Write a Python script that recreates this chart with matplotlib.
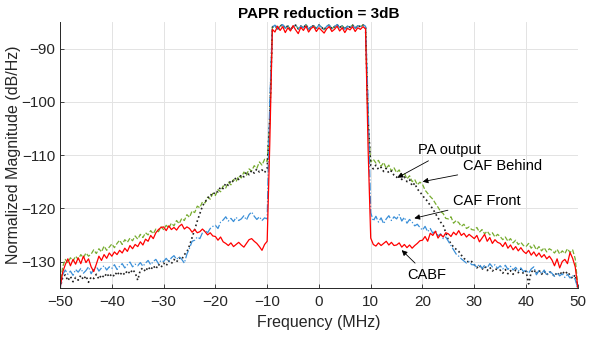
import numpy as np
import matplotlib
matplotlib.use('Agg')
import matplotlib.pyplot as plt

plt.rcParams['font.family'] = ['Liberation Sans', 'DejaVu Sans']

# PSD, 0.5 MHz steps from -50 to 50 MHz
# out-of-band left (-50 .. -10)
pa_left = [-134.5, -131.0, -129.6, -130.2, -129.3, -129.9, -129.0, -129.6, -128.7, -129.3,
           -128.4, -129.0, -128.6, -127.8, -128.5, -127.6, -128.2, -127.1, -127.9, -127.3,
           -126.7, -127.4, -126.6, -126.0, -126.8, -125.9, -126.4, -125.6, -126.1, -125.2,
           -125.8, -124.9, -125.5, -124.6, -125.0, -124.2, -124.8, -123.9, -124.4, -123.5,
           -124.0, -123.2, -123.7, -122.8, -123.3, -122.3, -122.9, -121.9, -122.3, -121.2,
           -121.7, -120.5, -120.8, -119.6, -119.9, -118.8, -119.0, -117.9, -118.3, -117.2,
           -117.6, -116.5, -116.9, -115.8, -116.2, -115.1, -115.6, -114.6, -115.0, -113.9,
           -114.3, -113.2, -113.8, -112.6, -113.0, -112.0, -112.5, -111.3, -111.9, -110.8,
           -111.2]
behind_left = [-135.0, -133.0, -132.5, -133.6, -132.8, -133.8, -133.0, -133.5, -132.6, -133.4,
               -132.7, -133.9, -132.9, -133.2, -132.4, -133.3, -132.5, -133.0, -132.2, -132.9,
               -132.3, -132.8, -131.9, -132.6, -132.0, -132.5, -131.7, -132.3, -131.5, -132.1,
               -133.5, -131.6, -131.2, -131.9, -131.0, -131.6, -130.8, -131.4, -130.5, -131.1,
               -130.3, -130.8, -129.9, -130.4, -129.6, -130.1, -129.3, -129.6, -128.7, -128.2,
               -127.0, -125.5, -124.0, -122.4, -121.0, -119.6, -118.8, -118.2, -117.4, -117.6,
               -116.8, -116.9, -116.0, -116.3, -115.3, -115.7, -114.7, -115.0, -114.2, -114.6,
               -113.7, -114.1, -113.2, -113.7, -112.9, -113.4, -112.6, -113.2, -112.8, -113.3,
               -112.5]
front_left = [-135.0, -132.5, -131.6, -132.4, -131.8, -132.6, -131.5, -132.0, -131.3, -132.2,
              -131.7, -131.0, -132.3, -131.4, -130.9, -131.8, -131.2, -130.8, -131.6, -131.0,
              -131.3, -130.6, -131.5, -130.9, -130.4, -131.2, -130.6, -130.1, -131.0, -130.5,
              -130.8, -130.2, -130.9, -130.3, -129.8, -130.6, -130.0, -129.6, -130.4, -129.8,
              -130.0, -129.4, -130.1, -129.3, -128.9, -129.6, -129.1, -129.6, -130.3, -128.6,
              -127.5, -126.2, -126.0, -125.4, -125.7, -124.6, -124.1, -124.6, -123.8, -123.4,
              -123.2, -123.8, -122.6, -122.2, -121.6, -122.4, -121.9, -122.5, -121.7, -122.3,
              -122.0, -121.4, -122.2, -121.2, -120.7, -121.5, -122.1, -121.6, -122.3, -121.8,
              -122.0]
cabf_left = [-135.0, -132.0, -130.6, -129.5, -130.8, -129.6, -130.5, -129.3, -130.4, -129.0,
             -130.2, -129.5, -131.0, -131.9, -130.5, -129.0, -129.8, -128.7, -129.4, -128.4,
             -129.0, -128.2, -128.7, -127.9, -128.4, -127.5, -128.1, -127.0, -127.6, -126.8,
             -127.2, -126.3, -126.9, -125.8, -126.2, -125.1, -125.7, -124.6, -124.0, -123.6,
             -123.5, -124.2, -123.3, -124.0, -123.6, -124.1, -123.4, -123.0, -123.9, -123.5,
             -123.8, -124.5, -124.0, -124.6, -124.4, -123.9, -124.4, -125.0, -124.6, -125.2,
             -125.3, -126.0, -125.4, -126.3, -126.6, -127.0, -126.5, -127.2, -126.8, -126.4,
             -126.9, -127.3, -126.6, -125.9, -125.7, -126.2, -126.6, -127.2, -127.9, -126.8,
             -126.2]

# in-band (-9 .. 9)
inband_caf = [-86.0, -85.6, -86.4, -85.8, -85.5, -86.2, -85.7, -86.5, -85.9, -85.6,
              -86.3, -85.8, -86.1, -85.5, -86.4, -85.9, -85.7, -86.2, -85.6, -86.0,
              -86.5, -85.8, -85.6, -86.3, -85.9, -85.5, -86.1, -85.7, -86.4, -85.8,
              -86.0, -85.6, -86.2, -85.7, -85.9, -85.6, -85.8]
inband_cabf = [-86.4, -86.9, -85.8, -86.6, -85.9, -87.0, -86.1, -86.7, -85.7, -86.5,
               -87.2, -86.0, -86.6, -85.8, -86.9, -86.2, -85.9, -86.8, -86.1, -86.6,
               -87.1, -86.3, -85.9, -86.8, -86.4, -85.8, -86.7, -86.1, -87.0, -86.2,
               -86.5, -85.9, -86.8, -86.1, -86.4, -85.9, -86.3]

# band edge samples at -9.5 and 9.5 MHz
pa_edge = [-104.0, -104.5]
behind_edge = [-103.0, -103.5]
front_edge = [-100.0, -100.2]
cabf_edge = [-108.0, -109.0]

# out-of-band right (10 .. 50)
pa_right = [-111.3, -110.8, -111.5, -111.0, -112.1, -111.4, -112.5, -111.9, -113.0, -112.4,
            -113.3, -112.8, -113.9, -113.4, -114.5, -113.9, -115.0, -114.6, -115.6, -115.1,
            -115.5, -116.6, -117.2, -117.8, -118.3, -119.1, -119.8, -120.6, -121.0, -121.9,
            -122.0, -121.6, -122.8, -122.3, -122.7, -123.4, -123.0, -123.8, -123.5, -124.0,
            -124.1, -123.6, -124.5, -124.0, -124.8, -124.3, -125.0, -124.6, -125.4, -124.9,
            -125.3, -125.9, -125.4, -126.2, -125.7, -126.5, -126.0, -126.8, -126.4, -127.0,
            -127.2, -126.6, -127.5, -126.9, -127.8, -127.2, -128.0, -127.4, -128.2, -127.6,
            -127.9, -128.4, -127.7, -128.6, -128.0, -128.5, -127.6, -128.3, -127.8, -129.5,
            -134.5]
behind_right = [-112.0, -112.6, -111.9, -112.7, -112.3, -113.1, -112.5, -113.4, -113.0, -113.8,
                -114.2, -113.7, -114.6, -114.1, -115.0, -114.6, -115.8, -115.3, -116.4, -116.9,
                -117.6, -118.2, -118.7, -119.5, -120.1, -121.0, -121.8, -122.6, -123.2, -124.6,
                -126.0, -126.6, -127.3, -127.7, -128.1, -128.8, -129.4, -129.8, -130.2, -130.0,
                -130.6, -131.2, -130.7, -131.5, -130.9, -131.7, -131.1, -131.8, -131.3, -131.6,
                -131.6, -132.2, -131.5, -132.3, -131.7, -132.4, -131.6, -132.1, -131.4, -132.3,
                -131.8, -134.2, -132.0, -131.5, -132.3, -131.6, -132.4, -131.8, -132.5, -131.9,
                -132.2, -132.8, -132.0, -132.6, -131.8, -132.4, -131.9, -132.6, -133.2, -132.5,
                -135.0]
front_right = [-120.8, -122.4, -121.5, -122.6, -121.8, -122.9, -122.0, -121.4, -122.3, -121.6,
               -122.0, -121.2, -122.4, -121.7, -122.8, -122.1, -122.6, -123.3, -123.0, -123.6,
               -124.1, -123.4, -124.4, -123.8, -124.7, -124.2, -125.2, -124.8, -125.7, -125.4,
               -126.2, -127.0, -127.8, -128.6, -129.0, -129.5, -129.9, -130.3, -130.0, -130.6,
               -130.6, -131.1, -130.5, -131.3, -130.7, -131.2, -130.4, -131.0, -130.6, -131.3,
               -130.8, -131.4, -130.7, -131.5, -130.9, -131.6, -131.1, -131.8, -131.2, -131.9,
               -131.6, -132.2, -131.4, -131.0, -132.5, -131.7, -132.3, -131.6, -132.6, -131.9,
               -132.2, -132.8, -132.1, -132.7, -132.3, -133.0, -132.4, -133.1, -132.6, -133.4,
               -135.0]
cabf_right = [-125.6, -126.8, -127.1, -126.5, -127.0, -126.6, -126.2, -126.9, -126.4, -127.0,
              -126.9, -126.5, -127.3, -126.8, -127.4, -126.9, -127.5, -127.0, -126.6, -126.1,
              -126.0, -125.3, -126.2, -124.7, -125.1, -124.3, -125.6, -124.9, -125.4, -124.6,
              -124.8, -125.3, -124.5, -125.0, -124.2, -125.1, -124.7, -125.4, -124.9, -125.3,
              -125.7, -125.1, -126.3, -125.6, -124.9, -126.2, -125.5, -126.6, -125.9, -126.4,
              -126.6, -127.2, -126.4, -127.5, -126.9, -127.8, -127.2, -128.0, -127.4, -128.1,
              -128.5, -127.9, -128.8, -128.2, -129.0, -128.4, -129.2, -128.7, -129.5, -129.0,
              -129.7, -130.8, -129.5, -131.2, -130.0, -129.6, -130.4, -128.3, -129.4, -131.0,
              -134.8]


def spectrum(left, edge, inband, right):
    return np.array(left + [edge[0]] + inband + [edge[1]] + right)


freq = np.linspace(-50, 50, 201)
pa = spectrum(pa_left, pa_edge, inband_caf, pa_right)
behind = spectrum(behind_left, behind_edge, inband_caf, behind_right)
front = spectrum(front_left, front_edge, inband_caf, front_right)
cabf = spectrum(cabf_left, cabf_edge, inband_cabf, cabf_right)

fig = plt.figure(figsize=(5.89, 3.37), dpi=100)
ax = fig.add_axes([0.102, 0.145, 0.879, 0.79])

ax.plot(freq, pa, color='#77AC30', ls='--', lw=0.9)
ax.plot(freq, behind, color='#222222', ls=':', lw=1.2)
ax.plot(freq, front, color='#3A8FD8', ls='-.', lw=0.9)
ax.plot(freq, cabf, color='#FF0000', ls='-', lw=0.9)

ax.set_xlim(-50, 50)
ax.set_ylim(-135, -85)
ax.set_xticks(np.arange(-50, 51, 10))
ax.set_yticks(np.arange(-130, -89, 10))
ax.grid(True, color='#e3e3e3', lw=0.7)
ax.set_axisbelow(True)
for s in ['top', 'right']:
    ax.spines[s].set_visible(False)
for s in ['left', 'bottom']:
    ax.spines[s].set_color('#262626')
    ax.spines[s].set_linewidth(0.7)
ax.tick_params(direction='in', length=3, width=0.6, color='#262626',
               labelsize=11, labelcolor='#262626')
ax.tick_params(axis='x', pad=5)

ax.set_xlabel('Frequency (MHz)', fontsize=11.5, color='#262626', labelpad=4)
ax.set_ylabel('Normalized Magnitude (dB/Hz)', fontsize=11.5, color='#262626')
ax.yaxis.set_label_coords(-0.076, 0.5)
ax.set_title('PAPR reduction = 3dB', fontsize=11, fontweight='bold', pad=3)

arrow = dict(arrowstyle='-|>', color='black', lw=0.6, mutation_scale=8)
ax.annotate('PA output', xy=(14.7, -114.5), xytext=(25.1, -109.0), fontsize=10.5,
            ha='center', va='center', arrowprops=arrow)
ax.annotate('CAF Behind', xy=(19.5, -115.1), xytext=(35.5, -112.1), fontsize=10.5,
            ha='center', va='center', arrowprops=arrow)
ax.annotate('CAF Front', xy=(17.9, -122.0), xytext=(32.5, -118.6), fontsize=10.5,
            ha='center', va='center', arrowprops=arrow)
ax.annotate('CABF', xy=(15.6, -127.5), xytext=(20.9, -132.5), fontsize=10.5,
            ha='center', va='center', arrowprops=arrow)

fig.savefig('out.png', dpi=100)
